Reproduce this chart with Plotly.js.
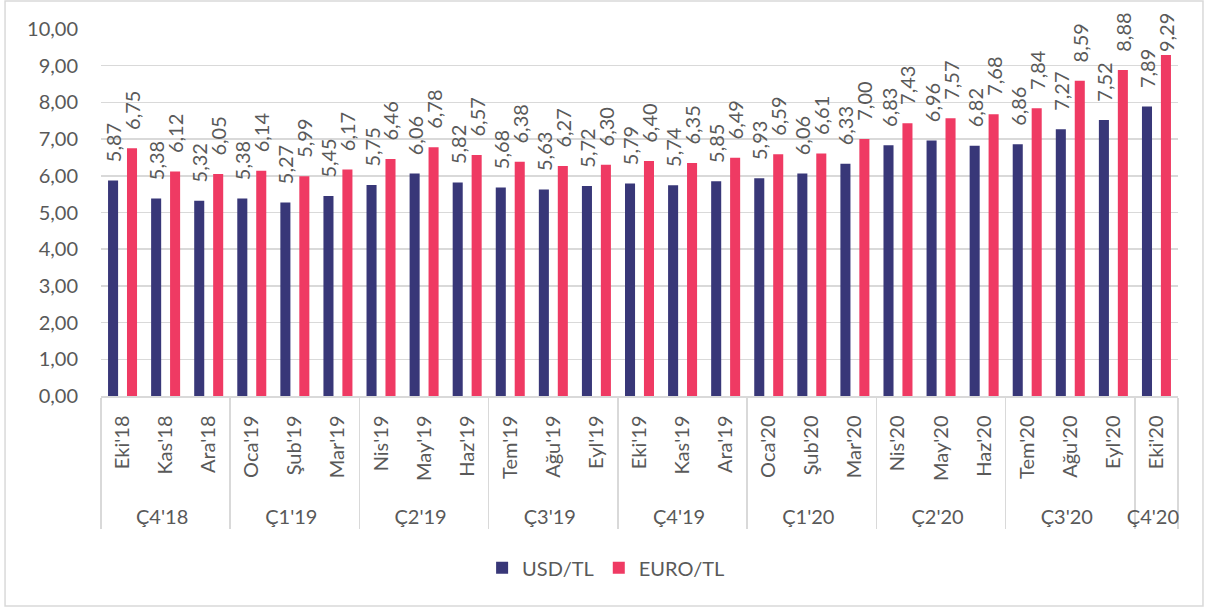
<!DOCTYPE html>
<html>
<head>
<meta charset="utf-8">
<script src="https://cdn.plot.ly/plotly-3.0.1.min.js"></script>
<style>
html,body{margin:0;padding:0;background:#fff;}
#chart{width:1205px;height:608px;}
</style>
</head>
<body>
<div id="chart"></div>
<script>
const quarters = ["Ç4'18","Ç4'18","Ç4'18","Ç1'19","Ç1'19","Ç1'19","Ç2'19","Ç2'19","Ç2'19","Ç3'19","Ç3'19","Ç3'19","Ç4'19","Ç4'19","Ç4'19","Ç1'20","Ç1'20","Ç1'20","Ç2'20","Ç2'20","Ç2'20","Ç3'20","Ç3'20","Ç3'20","Ç4'20"];
const months = ["Eki'18","Kas'18","Ara'18","Oca'19","Şub'19","Mar'19","Nis'19","May'19","Haz'19","Tem'19","Ağu'19","Eyl'19","Eki'19","Kas'19","Ara'19","Oca'20","Şub'20","Mar'20","Nis'20","May'20","Haz'20","Tem'20","Ağu'20","Eyl'20","Eki'20"];
const usdTl = [5.87,5.38,5.32,5.38,5.27,5.45,5.75,6.06,5.82,5.68,5.63,5.72,5.79,5.74,5.85,5.93,6.06,6.33,6.83,6.96,6.82,6.86,7.27,7.52,7.89];
const euroTl = [6.75,6.12,6.05,6.14,5.99,6.17,6.46,6.78,6.57,6.38,6.27,6.30,6.40,6.35,6.49,6.59,6.61,7.00,7.43,7.57,7.68,7.84,8.59,8.88,9.29];
const seriesNames = ["USD/TL","EURO/TL"];

const FONT = "Lato, 'Open Sans', sans-serif";
const TXT = "#595959";
const NB = '\u00a0';
// leading non-breaking spaces lift the rotated labels off the bar tops / push quarter row down
const monthLabels = months.map(m => NB.repeat(3) + m);

function bar(name, vals, color){
  return {
    type:'bar', name:name, x:[quarters, monthLabels], y:vals,
    marker:{color:color},
    texttemplate: vals.map(v => (v > 9 ? '' : NB.repeat(3)) + '%{y:.2f}'),
    textposition:'outside', textangle:-90,
    constraintext:'none', cliponaxis:false,
    textfont:{family:FONT,size:20,color:TXT},
    hoverinfo:'y'
  };
}

const data = [bar(seriesNames[0], usdTl, '#383778'), bar(seriesNames[1], euroTl, '#EF3A63')];

const layout = {
  width:1205, height:608,
  margin:{l:101, r:27, t:29, b:212},
  separators:',.',
  bargap:0.12, bargroupgap:0.47,
  font:{family:FONT, size:20, color:TXT},
  showlegend:true,
  legend:{orientation:'h', x:0.469, xanchor:'center', y:-0.468, yanchor:'middle', font:{size:20,color:TXT}},
  xaxis:{type:'multicategory', tickangle:-90, showline:true, linecolor:'#d9d9d9', linewidth:1.5,
         showdividers:true, dividercolor:'#d9d9d9', dividerwidth:1.5, ticks:'', ticklabelstandoff:10,
         tickfont:{size:20,color:TXT}},
  yaxis:{range:[0,10], dtick:1, tickformat:'.2f', gridcolor:'#d9d9d9', gridwidth:1.5,
         zeroline:false, showline:false, ticks:'', ticklabelstandoff:22, tickfont:{size:20,color:TXT}},
  plot_bgcolor:'#fff', paper_bgcolor:'#fff',
  shapes:[{type:'rect', xref:'paper', yref:'paper', x0:-0.0891, x1:1.0232, y0:-0.572, y1:1.0763,
           line:{color:'#d9d9d9', width:1.5}}]
};

Plotly.newPlot('chart', data, layout, {displayModeBar:false, staticPlot:true});
</script>
</body>
</html>
